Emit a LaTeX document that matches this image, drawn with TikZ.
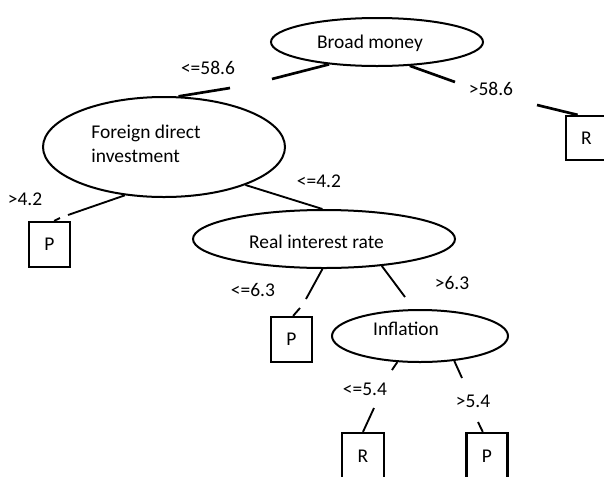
\documentclass[tikz,border=0pt]{standalone}
\usepackage{fontspec}
\setmainfont{Carlito}
\usetikzlibrary{shapes.geometric}

\begin{document}
\begin{tikzpicture}[
  x=0.75pt, y=-0.75pt,
  every node/.style={font=\fontsize{14.6}{18}\selectfont, inner sep=0pt},
  sized/.style 2 args={minimum width=#1*0.75pt, minimum height=#2*0.75pt},
  split/.style={ellipse, draw, line width=1.5pt},
  leaf/.style={rectangle, draw, line width=1.7pt},
  branch/.style={line width=1.4pt},
  heavy/.style={line width=2pt},
  cond/.style={}
]
\useasboundingbox (0,0) rectangle (604,476);
\clip (0,0) rectangle (604,476);

% decision nodes
\node[split, sized={212}{48},
      label={[shift={(-7,1)}]center:Broad money}] (bm) at (377,42) {};
\node[split, sized={242}{100},
      label={[shift={(-18,-3)}, align=left]center:Foreign direct\\investment}] (fdi) at (164,147) {};
\node[split, sized={262}{58},
      label={[shift={(-7.5,3)}]center:Real interest rate}] (rir) at (324,239) {};
\node[split, sized={176}{52},
      label={[shift={(-14,-7)}]center:Inflation}] (inf) at (420,336) {};

% leaves
\node[leaf, sized={41}{44}] (r1) at (586.5,138) {R};
\node[leaf, sized={41}{45}] (p1) at (49.5,244.5) {P};
\node[leaf, sized={41}{45}] (p2) at (291.5,339.5) {P};
\node[leaf, sized={42}{46}] (r2) at (363,456) {R};
\node[leaf, sized={41}{46}] (p3) at (487,456) {P};

% branch conditions
\node[cond] (l1) at (208,68) {<=58.6};
\node[cond] (l2) at (491,89) {>58.6};
\node[cond] (l3) at (25,199) {>4.2};
\node[cond] (l4) at (319,181) {<=4.2};
\node[cond] (l5) at (253,290) {<=6.3};
\node[cond] (l6) at (452,283) {>6.3};
\node[cond] (l7) at (365,389) {<=5.4};
\node[cond] (l8) at (473,401) {>5.4};

% free ends of the broken branch lines
\coordinate (c1a) at (272,79);
\coordinate (c1b) at (230,88);
\coordinate (c2a) at (455,82);
\coordinate (c2b) at (537,105);
\coordinate (c3a) at (68,215);
\coordinate (c3b) at (60,218);
\coordinate (c5a) at (306,299);
\coordinate (c5b) at (300,308);
\coordinate (c6)  at (405,297);
\coordinate (c7a) at (392,370);
\coordinate (c7b) at (374,408);
\coordinate (c8a) at (462,378);
\coordinate (c8b) at (478,422);

% branches
\draw[heavy] (bm.205) -- (c1a);
\draw[heavy] (c1b) -- (fdi.74);
\draw[heavy] (bm.-36) -- (c2a);
\draw[heavy] (c2b) -- (r1.111);
\draw[branch] (fdi.-129) -- (c3a);
\draw[branch] (c3b) -- (p1.79);
\draw[branch] (fdi.-25) -- (rir.93);
\draw[branch] (rir.-93) -- (c5a);
\draw[branch] (c5b) -- (p2.86);
\draw[branch] (rir.-25) -- (c6);
\draw[branch] (inf.-131) -- (c7a);
\draw[branch] (c7b) -- (r2.north);
\draw[branch] (inf.-36) -- (c8a);
\draw[branch] (c8b) -- (p3.100);
\end{tikzpicture}
\end{document}
